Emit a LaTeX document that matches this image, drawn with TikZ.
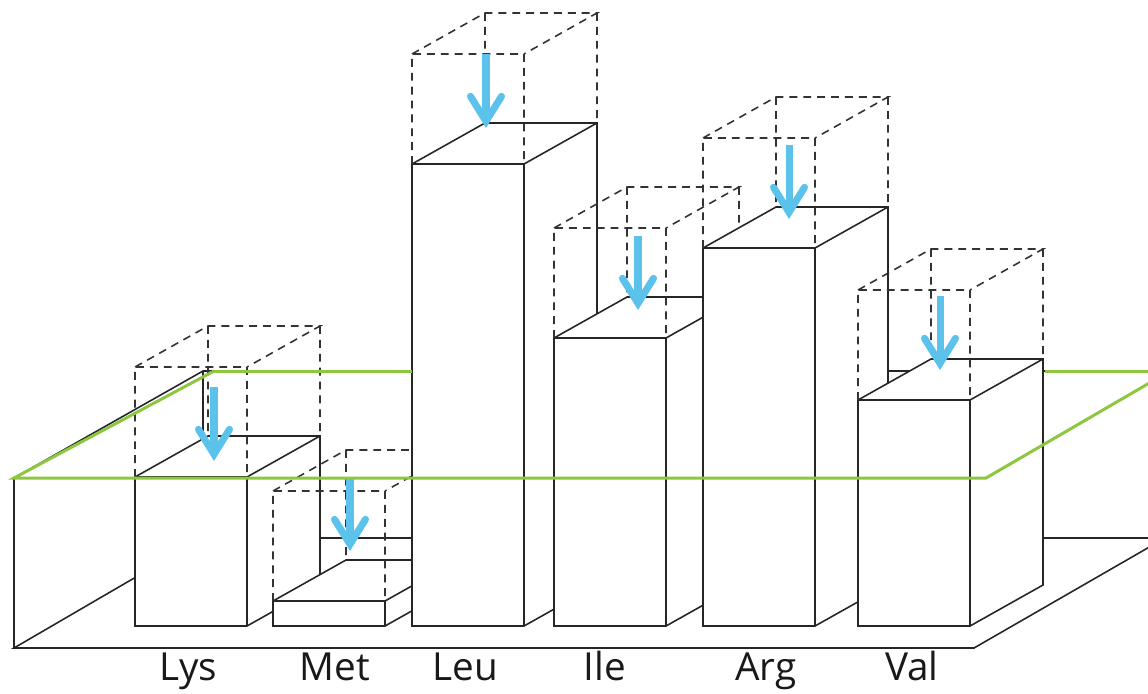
\documentclass[tikz,border=0pt]{standalone}
\usepackage{fontspec}
\setmainfont{Open Sans}
\usetikzlibrary{arrows.meta}
\definecolor{plane}{HTML}{8DC63F}
\definecolor{drop}{HTML}{5BC2EC}
\tikzstyle{boxline} = [draw=black!85, line width=0.9pt, line join=miter]
\tikzstyle{ghost} = [draw=black!80, line width=0.9pt, dash pattern=on 4.5pt off 3.4pt]
\tikzstyle{waterline} = [draw=plane, line width=1.7pt]
\tikzstyle{fall} = [draw=drop, line width=4pt, -{Straight Barb[length=5mm, width=6.2mm, line width=4pt, line cap=round]}]
\tikzstyle{amino} = [anchor=base, inner sep=0pt, text=black!90, font=\fontsize{22}{24}\selectfont]

\begin{document}
\begin{tikzpicture}[x=0.02cm, y=-0.02cm]
	\useasboundingbox (0,0) rectangle (1148,693);
	\clip (0,0) rectangle (1148,693);
	\coordinate (floor-fl) at (14,648);
	\coordinate (floor-fr) at (974,648);
	\coordinate (floor-br) at (1165,538);
	\coordinate (floor-bl) at (203,538);
	\coordinate (wall-fl) at (14,478);
	\coordinate (wall-bl) at (203,371);
	\coordinate (wall-br) at (1165,371);
	\draw[boxline] (floor-bl) -- (floor-fl) -- (floor-fr) -- (floor-br) -- cycle;
	\draw[boxline] (floor-fl) -- (wall-fl) -- (wall-bl) -- (wall-br);
	\draw[boxline] (wall-bl) -- (floor-bl);
	\foreach \n/\t/\x/\h/\ax/\ay/\lx in {lys/Lys/135/477/214/461/188, met/Met/273/601/350/551/335,
		leu/Leu/412/164/486/128/465, ile/Ile/554/338/638/310/605,
		arg/Arg/703/248/789/219/766, val/Val/858/400/940/370/912} {
		\filldraw[boxline, fill=white] (\x,626) -- (\x,\h) -- ++(73,-41) -- ++(112,0)
			-- (\x+185,585) -- (\x+112,626) -- cycle;
		\draw[boxline] (\x,\h) -- ++(112,0) -- ++(73,-41) (\x+112,\h) -- (\x+112,626);
		\draw[ghost] (\x,\h) -- ++(0,-110) -- ++(112,0) -- ++(0,110)
			(\x,\h-110) -- ++(73,-41) -- ++(112,0) -- ++(-73,41)
			(\x+73,\h-151) -- ++(0,110) (\x+185,\h-151) -- ++(0,110);
		\coordinate (\n-from) at (\ax,\ay-74);
		\coordinate (\n-to) at (\ax,\ay);
		\draw[fall] (\n-from) -- (\n-to);
		\node[amino] (\n-name) at (\lx,680) {\t};
	}
	\coordinate (plane-fl) at (14,478);
	\coordinate (plane-fr) at (986,478);
	\coordinate (plane-bl) at (214,371);
	\coordinate (plane-br) at (1170,371);
	\coordinate (plane-cut1) at (412,371);
	\coordinate (plane-cut2) at (1045,371);
	\draw[waterline] (plane-bl) -- (plane-cut1);
	\draw[waterline] (plane-cut2) -- (plane-br);
	\draw[waterline] (plane-bl) -- (plane-fl) -- (plane-fr) -- (plane-br);
\end{tikzpicture}
\end{document}
